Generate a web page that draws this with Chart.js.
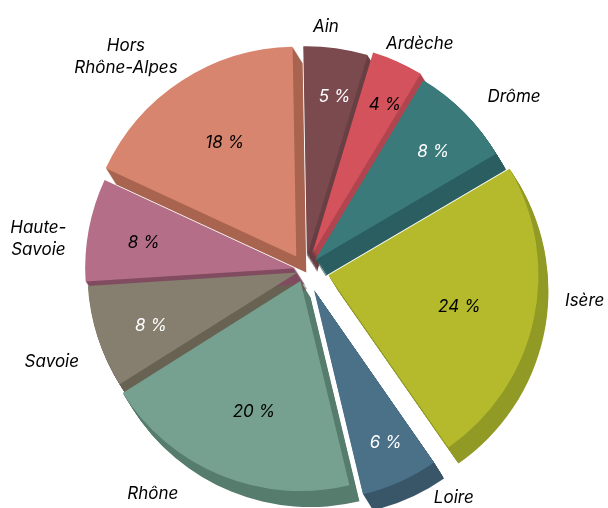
<!DOCTYPE html>
<html>
<head>
<meta charset="utf-8">
<script src="https://cdn.jsdelivr.net/npm/chart.js@4/dist/chart.umd.min.js"></script>
<style>
  body { margin: 0; background: #fff; }
  canvas { display: block; }
</style>
</head>
<body>
<canvas id="pie" width="608" height="508"></canvas>
<script>
// data
const departements = ['Ain', 'Ardèche', 'Drôme', 'Isère', 'Loire', 'Rhône', 'Savoie', ['Haute-', 'Savoie'], ['Hors', 'Rhône-Alpes']];
const parts = [5, 4, 8, 24, 6, 20, 8, 8, 18];

// styles
const topColors  = ['#7b4a4e', '#d4525c', '#3a7a7b', '#b4ba2c', '#4b7189', '#76a090', '#867f6f', '#b56e88', '#d8856f'];
const sideColors = ['#683f43', '#b0454f', '#2b5e60', '#929a26', '#395669', '#567c6d', '#686253', '#814b60', '#a8644f'];
const pctColors  = ['#fff', '#000', '#fff', '#000', '#fff', '#000', '#fff', '#000', '#000'];
const explode    = [14, 18, 14, 24, 22, 12, 8, 10, 16];        // px pulled out of the centre
const nameNudge  = [-3, 3, 5, -6, -9, 12, -2, -4, -7];         // deg, where the name sits vs mid angle
const namePush   = [-3, -7, 9, 14, -2, 5, 5, 3, -7];           // px, extra distance of the name

const depth = { x: 10, y: 16 };
const font = 'italic 17px Inter, "Open Sans", sans-serif';

function sliceCenter(arc, i) {
    const mid = (arc.startAngle + arc.endAngle) / 2;
    return { x: arc.x + Math.cos(mid) * explode[i], y: arc.y + Math.sin(mid) * explode[i], mid: mid };
}

// fake 3d: darker copies of each slice pushed down / right, then the tops
const pie3d = {
    id: 'pie3d',
    beforeDatasetsDraw(chart) {
        const ctx = chart.ctx;
        const arcs = chart.getDatasetMeta(0).data;
        arcs.forEach((arc, i) => {
            const c = sliceCenter(arc, i);
            ctx.save();
            ctx.fillStyle = sideColors[i];
            for (let t = 1; t <= 16; t++) {
                const k = t / 16;
                const x = c.x + depth.x * k, y = c.y + depth.y * k;
                ctx.beginPath();
                ctx.moveTo(x, y);
                ctx.arc(x, y, arc.outerRadius, arc.startAngle, arc.endAngle);
                ctx.closePath();
                ctx.fill();
            }
            ctx.restore();
        });
        arcs.forEach((arc, i) => {
            const c = sliceCenter(arc, i);
            ctx.save();
            ctx.translate(c.x - arc.x, c.y - arc.y);
            arc.draw(ctx);
            ctx.restore();
        });
        return false;
    },
    afterDraw(chart) {
        const ctx = chart.ctx;
        const arcs = chart.getDatasetMeta(0).data;
        ctx.save();
        ctx.font = font;
        ctx.textAlign = 'center';
        ctx.textBaseline = 'middle';
        arcs.forEach((arc, i) => {
            const c = sliceCenter(arc, i);
            const r = arc.outerRadius;

            // value on the top face (a bit right/down because of the tilt)
            const k = 0.83 - 0.009 * parts[i];
            ctx.fillStyle = pctColors[i];
            ctx.fillText(parts[i] + ' %', c.x + 5 + Math.cos(c.mid) * r * k, c.y + 4 + Math.sin(c.mid) * r * k);

            // name outside
            const lines = [].concat(departements[i]);
            const a = c.mid + nameNudge[i] * Math.PI / 180;
            const ux = Math.cos(a), uy = Math.sin(a);
            const halfW = Math.max(...lines.map(t => ctx.measureText(t).width)) / 2;
            const halfH = lines.length * 11;
            const rim = Math.max(0, depth.x * ux + depth.y * uy);
            const d = r + 25 + Math.abs(ux) * halfW + Math.abs(uy) * halfH + rim + namePush[i];
            const lx = arc.x + ux * d;
            const ly = arc.y + uy * d;
            ctx.fillStyle = '#000';
            lines.forEach((t, j) => {
                ctx.fillText(t, lx, ly + (j - (lines.length - 1) / 2) * 22);
            });
        });
        ctx.restore();
    }
};

new Chart(document.getElementById('pie'), {
    type: 'pie',
    data: {
        labels: departements,
        datasets: [{
            data: parts,
            backgroundColor: topColors,
            borderWidth: 0
        }]
    },
    options: {
        responsive: false,
        animation: false,
        radius: 210,
        rotation: -1,
        // centre of the pie at (305, 270)
        layout: { padding: { left: 2, top: 32 } },
        plugins: {
            legend: { display: false },
            tooltip: { enabled: false }
        }
    },
    plugins: [pie3d]
});
</script>
</body>
</html>
